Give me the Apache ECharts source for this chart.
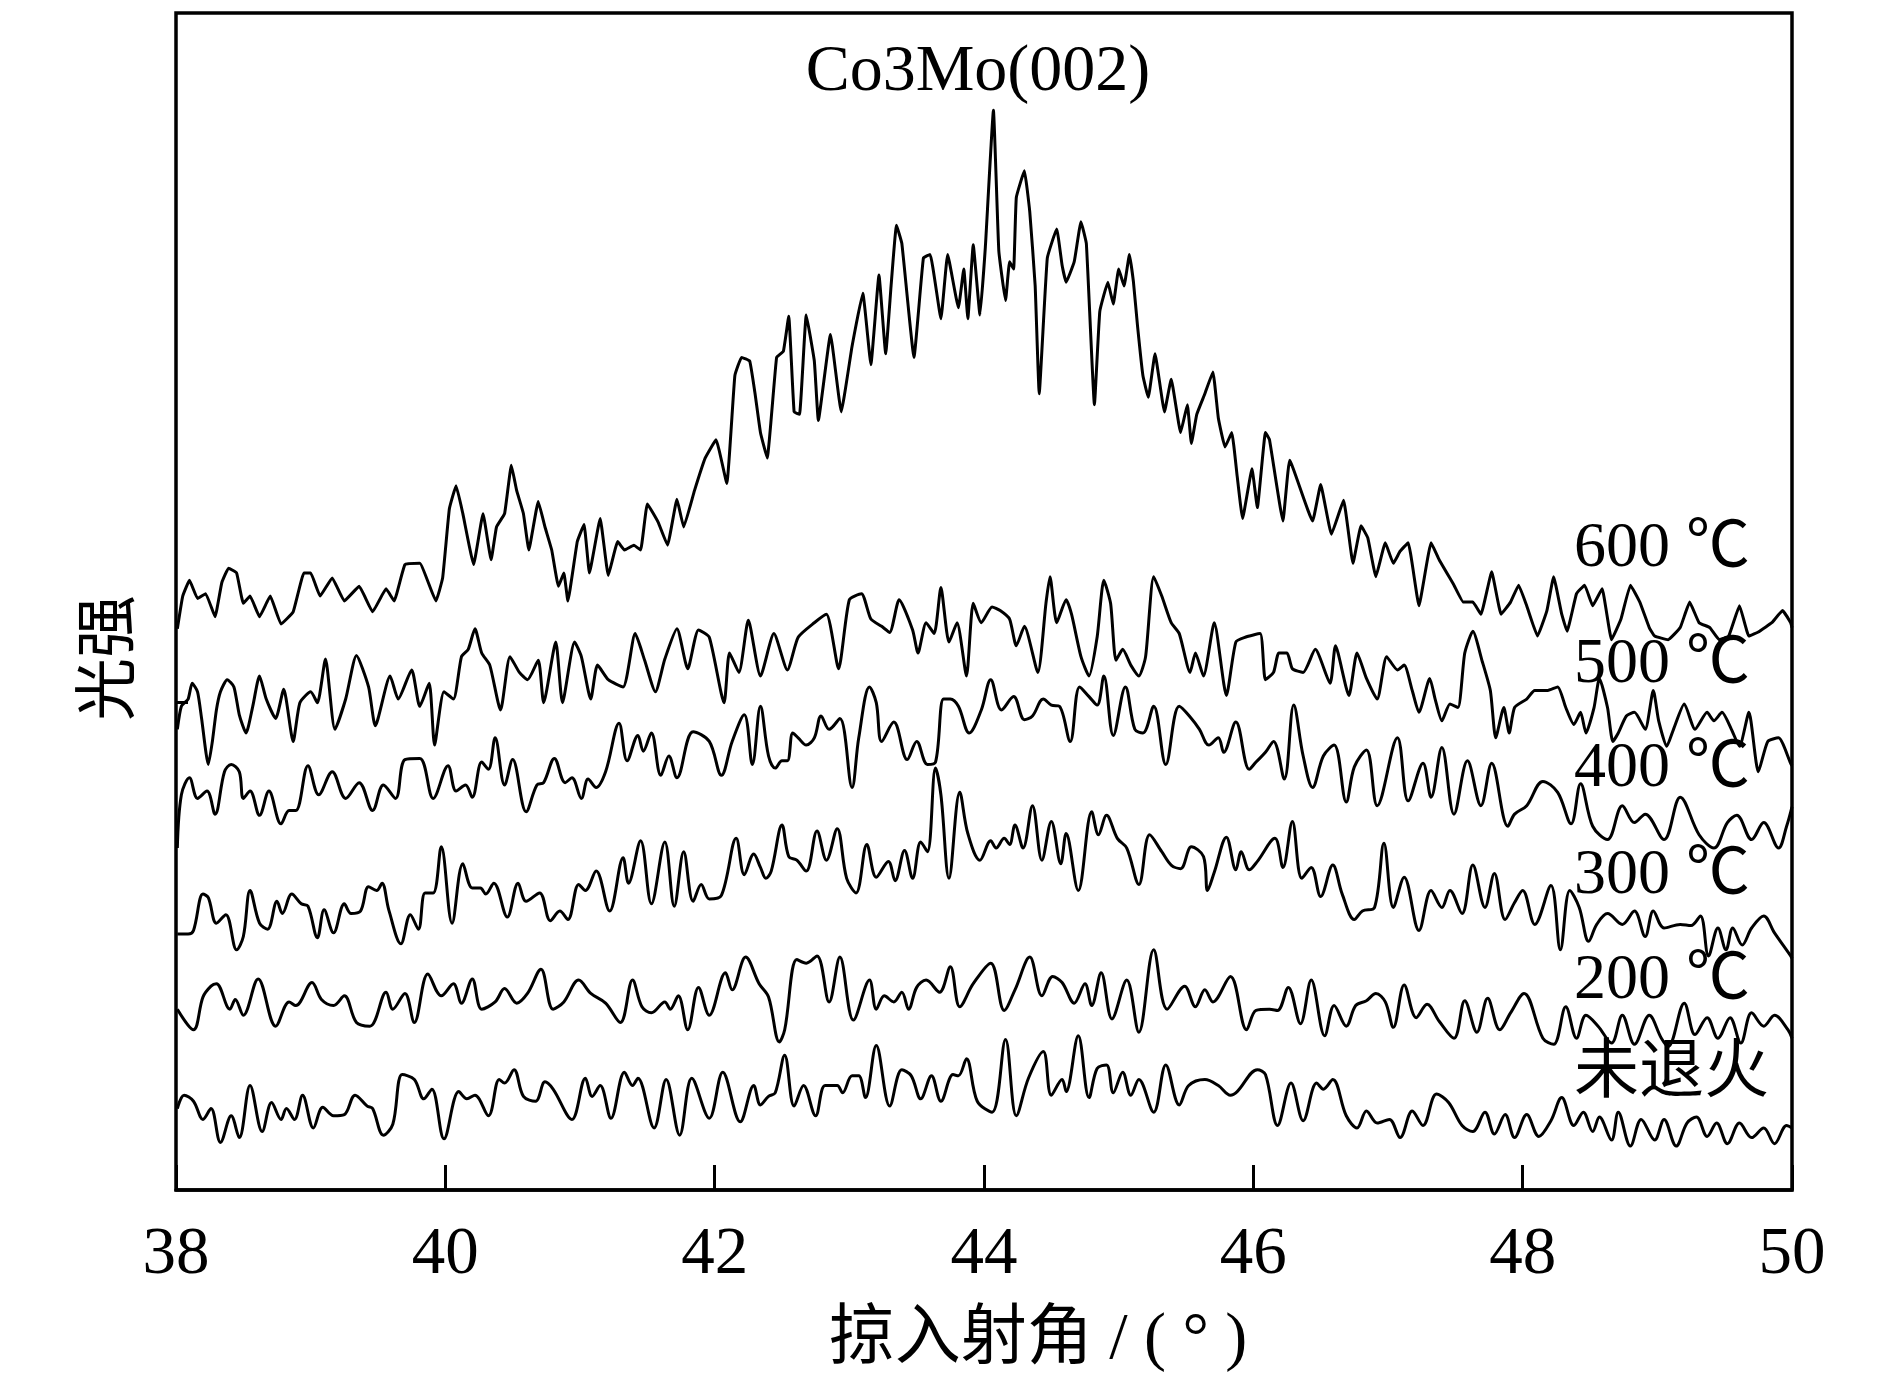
<!DOCTYPE html>
<html>
<head>
<meta charset="utf-8">
<script src="https://cdn.jsdelivr.net/npm/echarts@6/dist/echarts.min.js"></script>
<style>
html,body{margin:0;padding:0;background:#fff;}
#chart{width:1890px;height:1394px;}
</style>
</head>
<body>
<div id="chart"></div>
<script>
// X-ray grazing-incidence diffraction scans, intensity in arbitrary units (curves are offset vertically)
const xTicks = [38, 40, 42, 44, 46, 48, 50];
const seriesNames = ['600 ℃', '500 ℃', '400 ℃', '300 ℃', '200 ℃', '未退火'];
const peakLabel = 'Co3Mo(002)';
const xTitle = '掠入射角 / ( ° )';
const yTitle = '光强';

const s600 = [[38.01,481],[38.05,508],[38.10,521],[38.16,506],[38.22,510],[38.29,491],[38.34,519],[38.39,531],[38.45,527],[38.50,502],[38.55,508],[38.62,491],[38.70,508],[38.78,485],[38.87,495],[38.95,527],[39.00,527],[39.07,508],[39.16,523],[39.25,504],[39.36,516],[39.46,495],[39.56,514],[39.62,504],[39.70,534],[39.81,535],[39.93,504],[39.98,523],[40.03,580],[40.08,599],[40.13,576],[40.21,534],[40.28,576],[40.34,538],[40.38,565],[40.44,576],[40.49,616],[40.53,595],[40.58,576],[40.62,546],[40.69,586],[40.74,565],[40.79,546],[40.84,516],[40.88,527],[40.91,504],[40.98,553],[41.03,567],[41.07,527],[41.15,572],[41.21,525],[41.28,553],[41.33,546],[41.40,550],[41.45,546],[41.50,584],[41.58,569],[41.65,550],[41.72,588],[41.77,565],[41.85,595],[41.93,622],[42.01,637],[42.09,601],[42.15,690],[42.20,705],[42.26,702],[42.30,675],[42.34,643],[42.39,622],[42.46,705],[42.51,710],[42.55,739],[42.59,660],[42.63,658],[42.68,740],[42.74,702],[42.77,653],[42.86,724],[42.94,660],[43.02,714],[43.10,758],[43.16,699],[43.22,773],[43.27,708],[43.31,764],[43.35,814],[43.39,799],[43.48,705],[43.55,787],[43.60,790],[43.68,737],[43.73,790],[43.81,746],[43.85,778],[43.88,737],[43.92,798],[43.97,740],[44.01,796],[44.07,909],[44.11,793],[44.16,752],[44.19,784],[44.22,778],[44.24,837],[44.30,859],[44.34,825],[44.38,764],[44.41,675],[44.47,787],[44.54,811],[44.58,781],[44.61,767],[44.67,784],[44.72,817],[44.76,799],[44.82,666],[44.86,743],[44.92,767],[44.96,749],[45.00,778],[45.04,764],[45.08,790],[45.11,767],[45.14,731],[45.18,690],[45.22,672],[45.27,708],[45.34,660],[45.39,687],[45.46,643],[45.51,666],[45.54,634],[45.58,658],[45.64,675],[45.70,693],[45.74,655],[45.79,631],[45.84,643],[45.88,607],[45.92,572],[45.99,613],[46.03,581],[46.09,643],[46.12,637],[46.22,570],[46.27,620],[46.44,570],[46.50,600],[46.58,559],[46.67,587],[46.74,535],[46.80,566],[46.85,556],[46.91,524],[46.98,552],[47.04,535],[47.09,545],[47.15,552],[47.23,500],[47.32,552],[47.38,538],[47.49,517],[47.56,503],[47.63,503],[47.69,493],[47.77,528],[47.84,493],[47.91,503],[47.97,517],[48.03,500],[48.11,475],[48.18,496],[48.23,524],[48.29,493],[48.33,479],[48.40,510],[48.46,517],[48.52,500],[48.59,514],[48.66,472],[48.73,489],[48.80,517],[48.87,503],[48.94,482],[48.98,475],[49.08,472],[49.17,482],[49.24,503],[49.31,486],[49.39,482],[49.46,472],[49.53,475],[49.61,500],[49.68,475],[49.76,479],[49.85,486],[49.93,496],[49.99,486],[50.00,482]];

const s500 = [[38.01,398],[38.04,417],[38.09,423],[38.12,436],[38.16,429],[38.19,407],[38.24,369],[38.27,388],[38.30,414],[38.33,429],[38.38,439],[38.43,433],[38.47,410],[38.52,395],[38.57,417],[38.62,442],[38.67,423],[38.74,407],[38.80,431],[38.87,388],[38.92,420],[39.00,429],[39.05,420],[39.11,456],[39.18,398],[39.26,423],[39.34,459],[39.43,433],[39.48,401],[39.59,442],[39.65,423],[39.75,447],[39.81,417],[39.88,436],[39.92,385],[39.99,429],[40.06,423],[40.12,458],[40.17,464],[40.22,481],[40.27,461],[40.33,451],[40.41,414],[40.48,458],[40.55,445],[40.61,439],[40.69,455],[40.73,420],[40.82,470],[40.87,420],[40.96,470],[41.01,458],[41.08,423],[41.13,451],[41.21,439],[41.32,433],[41.41,477],[41.48,455],[41.56,429],[41.63,456],[41.72,481],[41.80,448],[41.88,480],[41.96,474],[42.07,420],[42.11,461],[42.18,445],[42.25,488],[42.34,442],[42.44,477],[42.54,447],[42.62,474],[42.74,486],[42.83,493],[42.92,448],[43.00,505],[43.09,510],[43.16,489],[43.24,483],[43.30,478],[43.37,505],[43.47,480],[43.51,461],[43.57,486],[43.63,477],[43.68,515],[43.74,470],[43.80,486],[43.87,442],[43.92,502],[43.98,486],[44.06,499],[44.12,496],[44.19,489],[44.24,467],[44.30,483],[44.40,445],[44.46,502],[44.49,524],[44.54,486],[44.61,505],[44.65,493],[44.72,458],[44.78,442],[44.84,474],[44.89,521],[44.94,502],[44.98,455],[45.03,464],[45.09,451],[45.15,442],[45.20,458],[45.26,524],[45.32,508],[45.39,486],[45.45,477],[45.53,445],[45.57,461],[45.63,442],[45.71,486],[45.80,426],[45.87,470],[45.94,474],[46.05,477],[46.09,439],[46.15,445],[46.19,461],[46.25,461],[46.29,448],[46.37,445],[46.46,464],[46.57,436],[46.61,467],[46.71,426],[46.77,461],[46.84,440],[46.92,423],[46.99,458],[47.07,447],[47.12,451],[47.18,430],[47.23,412],[47.31,440],[47.35,423],[47.40,405],[47.46,419],[47.52,416],[47.57,461],[47.63,479],[47.70,454],[47.76,430],[47.80,391],[47.86,416],[47.90,395],[47.94,416],[48.03,423],[48.09,430],[48.18,430],[48.26,433],[48.32,416],[48.38,402],[48.43,412],[48.47,395],[48.53,416],[48.57,440],[48.63,416],[48.67,388],[48.71,395],[48.77,409],[48.83,412],[48.91,398],[48.97,430],[49.01,405],[49.07,384],[49.12,398],[49.20,419],[49.28,398],[49.37,412],[49.42,405],[49.48,412],[49.55,398],[49.61,384],[49.68,412],[49.75,363],[49.82,388],[49.90,391],[49.99,370],[50.00,368]];

const s400 = [[38.01,300],[38.04,344],[38.10,358],[38.16,341],[38.23,347],[38.29,328],[38.36,363],[38.41,369],[38.47,363],[38.50,341],[38.55,347],[38.62,327],[38.69,347],[38.78,320],[38.84,331],[38.89,331],[38.98,368],[39.06,344],[39.16,363],[39.26,341],[39.36,354],[39.46,331],[39.54,352],[39.63,341],[39.70,373],[39.81,374],[39.91,341],[40.02,368],[40.08,347],[40.15,352],[40.20,342],[40.27,371],[40.32,365],[40.37,391],[40.44,352],[40.50,373],[40.60,330],[40.68,352],[40.73,354],[40.81,374],[40.89,354],[40.94,358],[41.01,341],[41.06,357],[41.12,350],[41.19,363],[41.29,403],[41.35,372],[41.43,393],[41.47,380],[41.53,395],[41.60,360],[41.66,376],[41.72,358],[41.84,396],[41.96,388],[42.05,360],[42.13,388],[42.22,410],[42.28,369],[42.34,417],[42.40,376],[42.45,366],[42.50,372],[42.54,372],[42.58,395],[42.62,391],[42.68,385],[42.74,391],[42.79,409],[42.85,398],[42.93,407],[43.02,350],[43.07,391],[43.15,433],[43.20,420],[43.24,388],[43.33,404],[43.43,373],[43.50,388],[43.58,369],[43.64,371],[43.70,423],[43.75,423],[43.81,417],[43.89,395],[43.98,414],[44.05,439],[44.13,414],[44.22,425],[44.30,406],[44.36,409],[44.44,423],[44.50,418],[44.56,417],[44.64,388],[44.71,433],[44.78,425],[44.84,418],[44.89,442],[44.96,393],[45.05,433],[45.12,398],[45.18,395],[45.26,417],[45.35,369],[45.45,417],[45.54,407],[45.60,398],[45.67,385],[45.74,391],[45.78,379],[45.87,404],[45.97,365],[46.02,371],[46.09,379],[46.15,388],[46.23,357],[46.30,418],[46.37,376],[46.44,350],[46.52,376],[46.60,385],[46.69,338],[46.75,367],[46.84,381],[46.92,335],[47.07,391],[47.15,339],[47.26,370],[47.32,342],[47.40,383],[47.49,328],[47.59,372],[47.69,335],[47.77,370],[47.89,318],[47.94,328],[48.03,335],[48.15,355],[48.26,346],[48.36,320],[48.43,353],[48.52,318],[48.63,307],[48.74,335],[48.83,321],[48.91,328],[49.05,307],[49.17,342],[49.31,311],[49.42,300],[49.52,321],[49.59,327],[49.70,307],[49.79,321],[49.90,300],[49.96,318],[50.00,334]];

const s300 = [[38.01,229],[38.09,229],[38.13,232],[38.20,262],[38.24,259],[38.30,238],[38.37,245],[38.45,216],[38.50,227],[38.55,265],[38.62,238],[38.68,233],[38.75,256],[38.79,246],[38.86,262],[38.93,254],[38.98,252],[39.05,226],[39.10,249],[39.17,230],[39.25,254],[39.30,246],[39.37,248],[39.43,268],[39.49,265],[39.53,271],[39.58,249],[39.67,221],[39.74,245],[39.80,233],[39.85,263],[39.91,263],[39.97,301],[40.05,238],[40.13,287],[40.20,267],[40.26,267],[40.30,262],[40.36,271],[40.46,243],[40.54,271],[40.60,256],[40.70,263],[40.78,240],[40.85,248],[40.91,241],[40.99,270],[41.04,265],[41.12,281],[41.22,248],[41.32,292],[41.36,271],[41.45,306],[41.53,254],[41.63,305],[41.70,252],[41.77,297],[41.84,256],[41.90,270],[41.96,258],[42.05,261],[42.16,308],[42.22,278],[42.29,295],[42.34,284],[42.38,275],[42.42,281],[42.50,319],[42.55,293],[42.61,290],[42.68,281],[42.76,314],[42.83,290],[42.91,316],[42.98,275],[43.05,263],[43.13,303],[43.20,276],[43.29,289],[43.34,273],[43.41,298],[43.47,275],[43.53,305],[43.58,297],[43.64,366],[43.68,344],[43.74,275],[43.82,346],[43.88,312],[43.97,290],[44.05,306],[44.09,300],[44.15,308],[44.19,303],[44.23,319],[44.29,300],[44.36,335],[44.43,290],[44.50,322],[44.57,287],[44.61,312],[44.70,265],[44.80,330],[44.85,311],[44.91,327],[44.99,308],[45.06,300],[45.15,270],[45.23,311],[45.32,297],[45.39,286],[45.46,283],[45.54,301],[45.63,293],[45.66,265],[45.71,280],[45.80,309],[45.87,282],[45.91,297],[45.97,282],[46.03,289],[46.16,308],[46.22,284],[46.29,322],[46.36,275],[46.43,284],[46.50,260],[46.59,286],[46.66,262],[46.75,241],[46.81,248],[46.90,251],[46.97,304],[47.04,251],[47.12,276],[47.23,232],[47.32,265],[47.40,251],[47.46,265],[47.55,246],[47.63,286],[47.72,251],[47.79,279],[47.87,241],[47.94,255],[48.00,265],[48.09,237],[48.21,269],[48.28,216],[48.35,265],[48.42,251],[48.49,223],[48.55,237],[48.63,246],[48.74,237],[48.83,248],[48.91,227],[48.97,248],[49.05,234],[49.17,237],[49.25,236],[49.32,244],[49.38,211],[49.45,234],[49.51,216],[49.56,234],[49.63,220],[49.70,234],[49.79,244],[49.87,230],[49.99,211],[50.00,209]];

const s200 = [[38.01,167],[38.13,150],[38.20,177],[38.26,186],[38.30,188],[38.40,167],[38.44,175],[38.50,162],[38.61,192],[38.74,153],[38.84,173],[38.89,170],[39.01,189],[39.08,175],[39.17,170],[39.25,178],[39.34,156],[39.44,153],[39.56,181],[39.61,167],[39.70,180],[39.77,156],[39.87,196],[39.97,178],[40.06,188],[40.12,172],[40.20,192],[40.27,167],[40.37,173],[40.44,184],[40.53,172],[40.61,180],[40.71,200],[40.80,167],[40.88,173],[40.99,191],[41.08,180],[41.19,172],[41.30,156],[41.39,191],[41.46,169],[41.53,164],[41.63,173],[41.67,167],[41.73,178],[41.80,150],[41.88,185],[41.96,162],[42.08,197],[42.13,183],[42.23,210],[42.33,188],[42.40,177],[42.48,140],[42.52,150],[42.61,208],[42.68,205],[42.76,211],[42.85,173],[42.93,210],[43.03,158],[43.15,191],[43.20,167],[43.26,178],[43.33,173],[43.39,181],[43.44,167],[43.50,185],[43.57,191],[43.67,181],[43.75,202],[43.82,169],[43.92,188],[44.05,205],[44.15,166],[44.23,183],[44.34,210],[44.43,178],[44.51,194],[44.58,189],[44.67,172],[44.75,188],[44.80,170],[44.87,197],[44.95,159],[45.06,191],[45.15,148],[45.26,216],[45.36,167],[45.49,186],[45.57,169],[45.64,183],[45.70,173],[45.83,194],[45.95,150],[46.02,166],[46.12,167],[46.18,166],[46.26,185],[46.35,155],[46.43,191],[46.53,145],[46.60,170],[46.69,153],[46.76,170],[46.84,174],[46.91,180],[46.98,173],[47.04,152],[47.12,187],[47.21,160],[47.29,171],[47.38,157],[47.49,143],[47.57,174],[47.66,148],[47.74,176],[47.83,150],[47.91,164],[48.01,180],[48.15,143],[48.23,138],[48.32,169],[48.40,143],[48.47,162],[48.56,153],[48.66,139],[48.74,162],[48.83,138],[48.94,162],[49.03,143],[49.08,136],[49.20,172],[49.28,146],[49.37,160],[49.45,143],[49.54,160],[49.62,139],[49.70,164],[49.79,153],[49.87,162],[49.97,150],[50.00,143]];

const sRaw = [[38.01,85],[38.06,96],[38.13,91],[38.20,76],[38.26,85],[38.33,57],[38.41,79],[38.47,61],[38.55,104],[38.64,66],[38.71,90],[38.78,76],[38.82,85],[38.88,76],[38.94,96],[39.02,69],[39.09,86],[39.17,79],[39.25,80],[39.33,96],[39.42,87],[39.46,85],[39.54,63],[39.61,72],[39.68,113],[39.77,109],[39.84,93],[39.90,101],[39.99,60],[40.10,99],[40.16,93],[40.22,96],[40.32,79],[40.40,109],[40.44,106],[40.51,117],[40.58,95],[40.67,91],[40.74,107],[40.80,101],[40.94,76],[41.04,110],[41.09,95],[41.15,104],[41.23,77],[41.33,115],[41.39,104],[41.43,110],[41.55,69],[41.64,109],[41.74,63],[41.83,110],[41.96,77],[42.06,115],[42.19,74],[42.29,104],[42.34,88],[42.40,95],[42.45,98],[42.52,129],[42.59,87],[42.66,104],[42.75,79],[42.82,104],[42.91,104],[42.95,98],[43.02,112],[43.07,112],[43.12,94],[43.20,137],[43.30,87],[43.39,117],[43.46,112],[43.53,93],[43.61,112],[43.68,91],[43.77,113],[43.81,112],[43.87,126],[43.95,91],[44.06,82],[44.16,142],[44.24,79],[44.33,110],[44.44,132],[44.50,96],[44.58,109],[44.61,99],[44.70,145],[44.78,94],[44.84,118],[44.91,121],[44.96,98],[45.03,115],[45.09,96],[45.15,109],[45.26,82],[45.35,121],[45.45,88],[45.52,104],[45.64,109],[45.74,104],[45.83,96],[45.88,99],[46.03,117],[46.09,113],[46.18,71],[46.28,106],[46.37,75],[46.47,106],[46.52,101],[46.59,109],[46.69,79],[46.77,69],[46.84,83],[46.92,73],[47.01,76],[47.09,61],[47.18,83],[47.26,71],[47.36,97],[47.45,90],[47.55,71],[47.63,66],[47.72,82],[47.79,64],[47.87,80],[47.94,61],[48.03,80],[48.12,62],[48.21,75],[48.29,94],[48.38,71],[48.45,82],[48.52,66],[48.57,78],[48.66,59],[48.71,82],[48.80,54],[48.88,76],[48.98,59],[49.05,76],[49.14,54],[49.22,73],[49.29,78],[49.37,62],[49.44,73],[49.52,56],[49.61,73],[49.70,61],[49.79,69],[49.87,56],[49.96,71],[50.00,69]];

const curves = [s600, s500, s400, s300, s200, sRaw];
const yTickValues = [420];

const chart = echarts.init(document.getElementById('chart'), null, {renderer: 'canvas'});

const serif = '"Liberation Serif", "Times New Roman", "Noto Sans CJK SC", serif';
const cjk = '"Liberation Serif", "Noto Sans CJK SC", serif';

const labelY = [549, 665, 769, 876, 981, 1075];

const option = {
  animation: false,
  backgroundColor: '#ffffff',
  grid: {
    left: 176, right: 98, top: 13, bottom: 204,
    containLabel: false,
    outerBoundsMode: 'none',
    show: true,
    borderColor: '#000',
    borderWidth: 3.5,
    backgroundColor: 'transparent'
  },
  xAxis: {
    type: 'value',
    min: 38, max: 50, interval: 2,
    axisLine: {show: true, lineStyle: {color: '#000', width: 3.5}},
    axisTick: {show: true, inside: true, length: 25, lineStyle: {color: '#000', width: 3}},
    axisLabel: {
      show: true, margin: 32, color: '#000', fontSize: 67, fontFamily: serif,
      showMinLabel: true, showMaxLabel: true,
      customValues: xTicks
    },
    splitLine: {show: false}
  },
  yAxis: {
    type: 'value',
    min: 17.75, max: 989.27,
    axisLine: {show: false},
    axisTick: {show: true, inside: true, length: 12, lineStyle: {color: '#000', width: 3}, customValues: yTickValues},
    axisLabel: {show: false},
    splitLine: {show: false}
  },
  series: curves.map((d, i) => ({
    name: seriesNames[i],
    type: 'line',
    data: d,
    showSymbol: false,
    smooth: i === 0 ? 0.1 : (i === 1 ? 0.2 : 0.35),
    lineStyle: {color: '#000', width: 3},
    z: 2
  })),
  graphic: [
    {type: 'text', x: 978, y: 73, z: 10, style: {text: peakLabel, font: '66px ' + serif, fill: '#000', textAlign: 'center', textVerticalAlign: 'middle'}},
    {type: 'text', x: 1038, y: 1341, z: 10, style: {text: xTitle, font: '66px ' + cjk, fill: '#000', textAlign: 'center', textVerticalAlign: 'middle'}},
    {type: 'text', x: 104, y: 658, rotation: Math.PI / 2, z: 10, style: {text: yTitle, font: '63px "Noto Sans CJK SC", sans-serif', fill: '#000', textAlign: 'center', textVerticalAlign: 'middle'}}
  ].concat(seriesNames.map((n, i) => ({
    type: 'text', x: 1574, y: labelY[i], z: 10,
    style: {text: n, font: (i === 5 ? '65px ' : '64px ') + cjk, fill: '#000', textAlign: 'left', textVerticalAlign: 'middle'}
  })))
};

chart.setOption(option);
</script>
</body>
</html>
